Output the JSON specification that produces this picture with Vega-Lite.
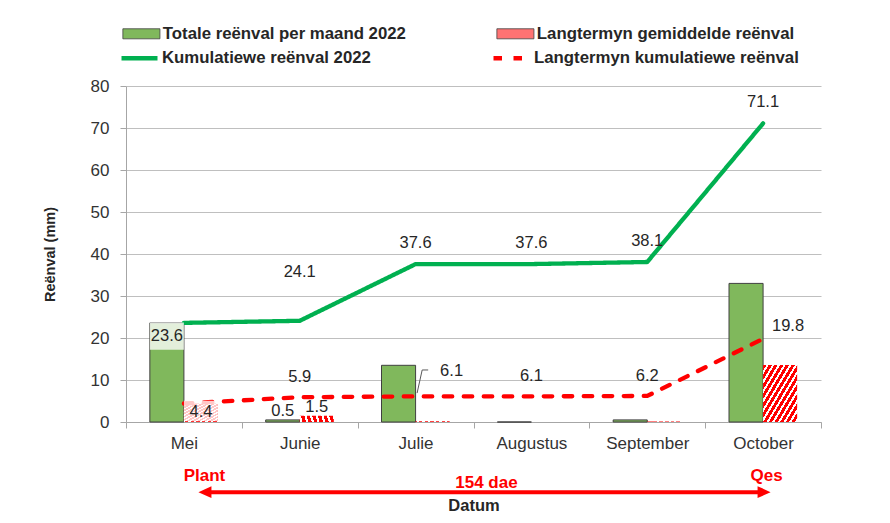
{
  "$schema": "https://vega.github.io/schema/vega-lite/v6.json",
  "width": 695,
  "height": 336,
  "autosize": {"type": "none"},
  "padding": {"left": 126, "top": 86, "right": 69, "bottom": 101},
  "background": "white",
  "config": {
    "view": {"stroke": null},
    "font": "Liberation Sans",
    "text": {"font": "Liberation Sans"},
    "axisY": {
      "values": [0, 10, 20, 30, 40, 50, 60, 70, 80],
      "grid": true,
      "gridColor": "#bfbfbf",
      "domainColor": "#a6a6a6",
      "tickColor": "#a6a6a6",
      "tickSize": 6,
      "labelFontSize": 17,
      "labelPadding": 11,
      "labelColor": "#333333",
      "titleFontSize": 14.5,
      "titleFontWeight": "bold",
      "titleColor": "#262626",
      "titlePadding": 33
    }
  },
  "datasets": {
    "bars": [
      {"month": "Mei", "series": "Totale reënval per maand 2022", "value": 23.6},
      {"month": "Junie", "series": "Totale reënval per maand 2022", "value": 0.5},
      {"month": "Julie", "series": "Totale reënval per maand 2022", "value": 13.5},
      {"month": "Augustus", "series": "Totale reënval per maand 2022", "value": 0},
      {"month": "September", "series": "Totale reënval per maand 2022", "value": 0.5},
      {"month": "October", "series": "Totale reënval per maand 2022", "value": 33.0},
      {"month": "Mei", "series": "Langtermyn gemiddelde reënval", "value": 4.4},
      {"month": "Junie", "series": "Langtermyn gemiddelde reënval", "value": 1.5},
      {"month": "Julie", "series": "Langtermyn gemiddelde reënval", "value": 0.2},
      {"month": "Augustus", "series": "Langtermyn gemiddelde reënval", "value": 0},
      {"month": "September", "series": "Langtermyn gemiddelde reënval", "value": 0.1},
      {"month": "October", "series": "Langtermyn gemiddelde reënval", "value": 13.6}
    ],
    "cum": [
      {"month": "Mei", "series": "Kumulatiewe reënval 2022", "value": 23.6},
      {"month": "Junie", "series": "Kumulatiewe reënval 2022", "value": 24.1},
      {"month": "Julie", "series": "Kumulatiewe reënval 2022", "value": 37.6},
      {"month": "Augustus", "series": "Kumulatiewe reënval 2022", "value": 37.6},
      {"month": "September", "series": "Kumulatiewe reënval 2022", "value": 38.1},
      {"month": "October", "series": "Kumulatiewe reënval 2022", "value": 71.1},
      {"month": "Mei", "series": "Langtermyn kumulatiewe reënval", "value": 4.4},
      {"month": "Junie", "series": "Langtermyn kumulatiewe reënval", "value": 5.9},
      {"month": "Julie", "series": "Langtermyn kumulatiewe reënval", "value": 6.1},
      {"month": "Augustus", "series": "Langtermyn kumulatiewe reënval", "value": 6.1},
      {"month": "September", "series": "Langtermyn kumulatiewe reënval", "value": 6.2},
      {"month": "October", "series": "Langtermyn kumulatiewe reënval", "value": 19.8}
    ],
    "annotations": [
      {"month": "Mei", "label": "Plant"},
      {"month": "Augustus", "label": "154 dae"},
      {"month": "October", "label": "Qes"}
    ],
    "season": [
      {"from": "Mei", "to": "October"}
    ]
  },
  "encoding": {
    "x": {
      "field": "month",
      "type": "nominal",
      "scale": {"domain": ["Mei", "Junie", "Julie", "Augustus", "September", "October"], "paddingInner": 0, "paddingOuter": 0},
      "axis": {
        "title": "Datum",
        "labelAngle": 0,
        "tickBand": "extent",
        "tickSize": 6,
        "labelPadding": 7,
        "labelFontSize": 17,
        "labelColor": "#333333",
        "domainColor": "#a6a6a6",
        "tickColor": "#a6a6a6",
        "titlePadding": 46,
        "titleFontSize": 16.5,
        "titleFontWeight": "bold",
        "titleColor": "#262626"
      }
    }
  },
  "layer": [
    {
      "data": {"name": "bars"},
      "transform": [{"filter": "datum.series === 'Totale reënval per maand 2022'"}],
      "mark": {"type": "bar", "stroke": "#404040", "strokeWidth": 1},
      "encoding": {
        "y": {"field": "value", "type": "quantitative", "title": "Reënval (mm)", "scale": {"domain": [0, 80], "nice": false}},
        "xOffset": {"field": "series", "type": "nominal", "scale": {"domain": ["Totale reënval per maand 2022", "Langtermyn gemiddelde reënval"], "paddingInner": 0, "paddingOuter": 0.7}},
        "fill": {
          "field": "series", "type": "nominal",
          "scale": {"domain": ["Totale reënval per maand 2022", "Langtermyn gemiddelde reënval"], "range": ["#80b85c", "#ff7373"]},
          "legend": {
            "orient": "none", "legendX": 7, "legendY": -61, "direction": "horizontal", "title": null,
            "padding": 0, "columnPadding": 89,
            "symbolType": "M-2.47,-0.67H2.47V0.67H-2.47Z", "symbolSize": 225,
            "symbolStrokeColor": "#404040", "symbolStrokeWidth": 0.8, "symbolOpacity": 1,
            "labelFont": "Liberation Sans", "labelFontSize": 16.8, "labelFontWeight": "bold", "labelColor": "#262626", "labelLimit": 400, "labelOffset": 13
          }
        }
      }
    },
    {
      "data": {"name": "bars"},
      "transform": [{"filter": "datum.series === 'Langtermyn gemiddelde reënval'"}],
      "mark": {
        "type": "bar",
        "fill": {
          "gradient": "linear", "x1": 0, "y1": 0, "x2": 1, "y2": 1,
          "stops": [
            {"offset": 0, "color": "#ff0000"}, {"offset": 0.05, "color": "#ff0000"}, {"offset": 0.05, "color": "#ffffff"}, {"offset": 0.0833, "color": "#ffffff"},
            {"offset": 0.0833, "color": "#ff0000"}, {"offset": 0.1333, "color": "#ff0000"}, {"offset": 0.1333, "color": "#ffffff"}, {"offset": 0.1667, "color": "#ffffff"},
            {"offset": 0.1667, "color": "#ff0000"}, {"offset": 0.2167, "color": "#ff0000"}, {"offset": 0.2167, "color": "#ffffff"}, {"offset": 0.25, "color": "#ffffff"},
            {"offset": 0.25, "color": "#ff0000"}, {"offset": 0.3, "color": "#ff0000"}, {"offset": 0.3, "color": "#ffffff"}, {"offset": 0.3333, "color": "#ffffff"},
            {"offset": 0.3333, "color": "#ff0000"}, {"offset": 0.3833, "color": "#ff0000"}, {"offset": 0.3833, "color": "#ffffff"}, {"offset": 0.4167, "color": "#ffffff"},
            {"offset": 0.4167, "color": "#ff0000"}, {"offset": 0.4667, "color": "#ff0000"}, {"offset": 0.4667, "color": "#ffffff"}, {"offset": 0.5, "color": "#ffffff"},
            {"offset": 0.5, "color": "#ff0000"}, {"offset": 0.55, "color": "#ff0000"}, {"offset": 0.55, "color": "#ffffff"}, {"offset": 0.5833, "color": "#ffffff"},
            {"offset": 0.5833, "color": "#ff0000"}, {"offset": 0.6333, "color": "#ff0000"}, {"offset": 0.6333, "color": "#ffffff"}, {"offset": 0.6667, "color": "#ffffff"},
            {"offset": 0.6667, "color": "#ff0000"}, {"offset": 0.7167, "color": "#ff0000"}, {"offset": 0.7167, "color": "#ffffff"}, {"offset": 0.75, "color": "#ffffff"},
            {"offset": 0.75, "color": "#ff0000"}, {"offset": 0.8, "color": "#ff0000"}, {"offset": 0.8, "color": "#ffffff"}, {"offset": 0.8333, "color": "#ffffff"},
            {"offset": 0.8333, "color": "#ff0000"}, {"offset": 0.8833, "color": "#ff0000"}, {"offset": 0.8833, "color": "#ffffff"}, {"offset": 0.9167, "color": "#ffffff"},
            {"offset": 0.9167, "color": "#ff0000"}, {"offset": 0.9667, "color": "#ff0000"}, {"offset": 0.9667, "color": "#ffffff"}, {"offset": 1, "color": "#ffffff"}
          ]
        }
      },
      "encoding": {
        "y": {"field": "value", "type": "quantitative", "title": "Reënval (mm)"},
        "xOffset": {"field": "series", "type": "nominal", "scale": {"domain": ["Totale reënval per maand 2022", "Langtermyn gemiddelde reënval"], "paddingInner": 0, "paddingOuter": 0.7}}
      }
    },
    {
      "data": {"name": "cum"},
      "mark": {"type": "line", "strokeWidth": 4.3, "strokeCap": "round"},
      "encoding": {
        "y": {"field": "value", "type": "quantitative", "title": "Reënval (mm)"},
        "color": {
          "field": "series", "type": "nominal",
          "scale": {"domain": ["Kumulatiewe reënval 2022", "Langtermyn kumulatiewe reënval"], "range": ["#00b050", "#ff0000"]},
          "legend": {
            "orient": "none", "legendX": -7, "legendY": -48.5, "direction": "horizontal", "title": null,
            "padding": 0, "columnPadding": 113,
            "symbolType": "stroke", "symbolSize": 1296, "symbolStrokeWidth": 4.5,
            "labelFont": "Liberation Sans", "labelFontSize": 16.8, "labelFontWeight": "bold", "labelColor": "#262626", "labelLimit": 400, "labelOffset": 2
          }
        },
        "strokeDash": {
          "field": "series", "type": "nominal",
          "scale": {"domain": ["Kumulatiewe reënval 2022", "Langtermyn kumulatiewe reënval"], "range": [[1, 0], [8.5, 11.5]]},
          "legend": {
            "orient": "none", "legendX": -7, "legendY": -48.5, "direction": "horizontal", "title": null,
            "padding": 0, "columnPadding": 113,
            "symbolType": "stroke", "symbolSize": 1296, "symbolStrokeWidth": 4.5,
            "labelFont": "Liberation Sans", "labelFontSize": 16.8, "labelFontWeight": "bold", "labelColor": "#262626", "labelLimit": 400, "labelOffset": 2
          }
        }
      }
    },
    {
      "data": {"name": "bars"},
      "transform": [{"filter": "datum.month === 'Mei' && datum.series === 'Totale reënval per maand 2022'"}],
      "mark": {"type": "point", "shape": "M-1,-0.8H1V0.8H-1Z", "size": 1156, "filled": true, "color": "#ffffff", "opacity": 0.78, "yOffset": 13.3, "strokeWidth": 0},
      "encoding": {
        "y": {"field": "value", "type": "quantitative", "title": "Reënval (mm)"},
        "xOffset": {"field": "series", "type": "nominal", "scale": {"domain": ["Totale reënval per maand 2022", "Langtermyn gemiddelde reënval"], "paddingInner": 0, "paddingOuter": 0.7}}
      }
    },
    {
      "data": {"name": "bars"},
      "transform": [{"filter": "datum.month === 'Mei' && datum.series === 'Langtermyn gemiddelde reënval'"}],
      "mark": {"type": "point", "shape": "M-1,-0.6H1V0.6H-1Z", "size": 1156, "filled": true, "color": "#ffffff", "opacity": 0.78, "yOffset": 7.5, "strokeWidth": 0},
      "encoding": {
        "y": {"field": "value", "type": "quantitative", "title": "Reënval (mm)"},
        "xOffset": {"field": "series", "type": "nominal", "scale": {"domain": ["Totale reënval per maand 2022", "Langtermyn gemiddelde reënval"], "paddingInner": 0, "paddingOuter": 0.7}}
      }
    },
    {
      "data": {"name": "bars"},
      "transform": [{"filter": "datum.month === 'Mei' && datum.series === 'Totale reënval per maand 2022'"}],
      "mark": {"type": "text", "fontSize": 16.5, "color": "#262626", "baseline": "middle", "dy": 13.3},
      "encoding": {
        "y": {"field": "value", "type": "quantitative", "title": "Reënval (mm)"},
        "xOffset": {"field": "series", "type": "nominal", "scale": {"domain": ["Totale reënval per maand 2022", "Langtermyn gemiddelde reënval"], "paddingInner": 0, "paddingOuter": 0.7}},
        "text": {"field": "value", "type": "quantitative", "format": ".1f"}
      }
    },
    {
      "data": {"name": "bars"},
      "transform": [{"filter": "datum.month === 'Mei' && datum.series === 'Langtermyn gemiddelde reënval'"}],
      "mark": {"type": "text", "fontSize": 16.5, "color": "#262626", "baseline": "middle", "dy": 8},
      "encoding": {
        "y": {"field": "value", "type": "quantitative", "title": "Reënval (mm)"},
        "xOffset": {"field": "series", "type": "nominal", "scale": {"domain": ["Totale reënval per maand 2022", "Langtermyn gemiddelde reënval"], "paddingInner": 0, "paddingOuter": 0.7}},
        "text": {"field": "value", "type": "quantitative", "format": ".1f"}
      }
    },
    {
      "data": {"name": "bars"},
      "transform": [{"filter": "datum.month === 'Junie'"}],
      "mark": {"type": "text", "fontSize": 16.5, "color": "#262626", "baseline": "middle", "dy": -9},
      "encoding": {
        "y": {"field": "value", "type": "quantitative", "title": "Reënval (mm)"},
        "xOffset": {"field": "series", "type": "nominal", "scale": {"domain": ["Totale reënval per maand 2022", "Langtermyn gemiddelde reënval"], "paddingInner": 0, "paddingOuter": 0.7}},
        "text": {"field": "value", "type": "quantitative", "format": ".1f"}
      }
    },
    {
      "data": {"name": "cum"},
      "transform": [{"filter": "datum.series === 'Kumulatiewe reënval 2022' && datum.month === 'Junie'"}],
      "mark": {"type": "text", "fontSize": 16.5, "color": "#262626", "baseline": "middle", "dy": -49},
      "encoding": {
        "y": {"field": "value", "type": "quantitative", "title": "Reënval (mm)"},
        "text": {"field": "value", "type": "quantitative", "format": ".1f"}
      }
    },
    {
      "data": {"name": "cum"},
      "transform": [{"filter": "datum.series === 'Kumulatiewe reënval 2022' && datum.month !== 'Junie' && datum.month !== 'Mei'"}],
      "mark": {"type": "text", "fontSize": 16.5, "color": "#262626", "baseline": "middle", "dy": -21},
      "encoding": {
        "y": {"field": "value", "type": "quantitative", "title": "Reënval (mm)"},
        "text": {"field": "value", "type": "quantitative", "format": ".1f"}
      }
    },
    {
      "data": {"name": "cum"},
      "transform": [{"filter": "datum.series === 'Langtermyn kumulatiewe reënval' && (datum.month === 'Junie' || datum.month === 'Augustus' || datum.month === 'September')"}],
      "mark": {"type": "text", "fontSize": 16.5, "color": "#262626", "baseline": "middle", "dy": -20},
      "encoding": {
        "y": {"field": "value", "type": "quantitative", "title": "Reënval (mm)"},
        "text": {"field": "value", "type": "quantitative", "format": ".1f"}
      }
    },
    {
      "data": {"name": "cum"},
      "transform": [{"filter": "datum.series === 'Langtermyn kumulatiewe reënval' && datum.month === 'Julie'"}],
      "mark": {"type": "text", "fontSize": 16.5, "color": "#262626", "baseline": "middle", "dy": -25, "dx": 36},
      "encoding": {
        "y": {"field": "value", "type": "quantitative", "title": "Reënval (mm)"},
        "text": {"field": "value", "type": "quantitative", "format": ".1f"}
      }
    },
    {
      "data": {"name": "cum"},
      "transform": [{"filter": "datum.series === 'Langtermyn kumulatiewe reënval' && datum.month === 'Julie'"}],
      "mark": {"type": "point", "shape": "M0.5,-1.1L2.2,-8.8H4.2", "size": 36, "filled": false, "color": "#595959", "strokeWidth": 1, "opacity": 1},
      "encoding": {
        "y": {"field": "value", "type": "quantitative", "title": "Reënval (mm)"}
      }
    },
    {
      "data": {"name": "cum"},
      "transform": [{"filter": "datum.series === 'Langtermyn kumulatiewe reënval' && datum.month === 'October'"}],
      "mark": {"type": "text", "fontSize": 16.5, "color": "#262626", "baseline": "middle", "dy": -13, "dx": 25},
      "encoding": {
        "y": {"field": "value", "type": "quantitative", "title": "Reënval (mm)"},
        "text": {"field": "value", "type": "quantitative", "format": ".1f"}
      }
    },
    {
      "data": {"name": "season"},
      "mark": {"type": "rule", "color": "#ff0000", "strokeWidth": 4, "xOffset": 21, "x2Offset": -4},
      "encoding": {
        "x": {"field": "from", "type": "nominal"},
        "x2": {"field": "to"},
        "y": {"datum": -16.7, "type": "quantitative", "title": "Reënval (mm)"}
      }
    },
    {
      "data": {"name": "season"},
      "mark": {"type": "point", "shape": "M-1,0L1,-0.92L1,0.92Z", "size": 169, "filled": true, "color": "#ff0000", "opacity": 1, "xOffset": 21},
      "encoding": {
        "x": {"field": "from", "type": "nominal"},
        "y": {"datum": -16.7, "type": "quantitative", "title": "Reënval (mm)"}
      }
    },
    {
      "data": {"name": "season"},
      "mark": {"type": "point", "shape": "M1,0L-1,-0.92L-1,0.92Z", "size": 169, "filled": true, "color": "#ff0000", "opacity": 1, "xOffset": 1},
      "encoding": {
        "x": {"field": "to", "type": "nominal"},
        "y": {"datum": -16.7, "type": "quantitative", "title": "Reënval (mm)"}
      }
    },
    {
      "data": {"name": "annotations"},
      "transform": [{"filter": "datum.label === 'Plant'"}],
      "mark": {"type": "text", "fontSize": 17, "fontWeight": "bold", "color": "#ff0000", "baseline": "middle", "dx": 20.5},
      "encoding": {"y": {"datum": -12.9, "type": "quantitative", "title": "Reënval (mm)"}, "text": {"field": "label"}}
    },
    {
      "data": {"name": "annotations"},
      "transform": [{"filter": "datum.label === '154 dae'"}],
      "mark": {"type": "text", "fontSize": 17, "fontWeight": "bold", "color": "#ff0000", "baseline": "middle", "dx": -45},
      "encoding": {"y": {"datum": -14.6, "type": "quantitative", "title": "Reënval (mm)"}, "text": {"field": "label"}}
    },
    {
      "data": {"name": "annotations"},
      "transform": [{"filter": "datum.label === 'Qes'"}],
      "mark": {"type": "text", "fontSize": 17, "fontWeight": "bold", "color": "#ff0000", "baseline": "middle", "dx": 3.6},
      "encoding": {"y": {"datum": -12.9, "type": "quantitative", "title": "Reënval (mm)"}, "text": {"field": "label"}}
    }
  ]
}
